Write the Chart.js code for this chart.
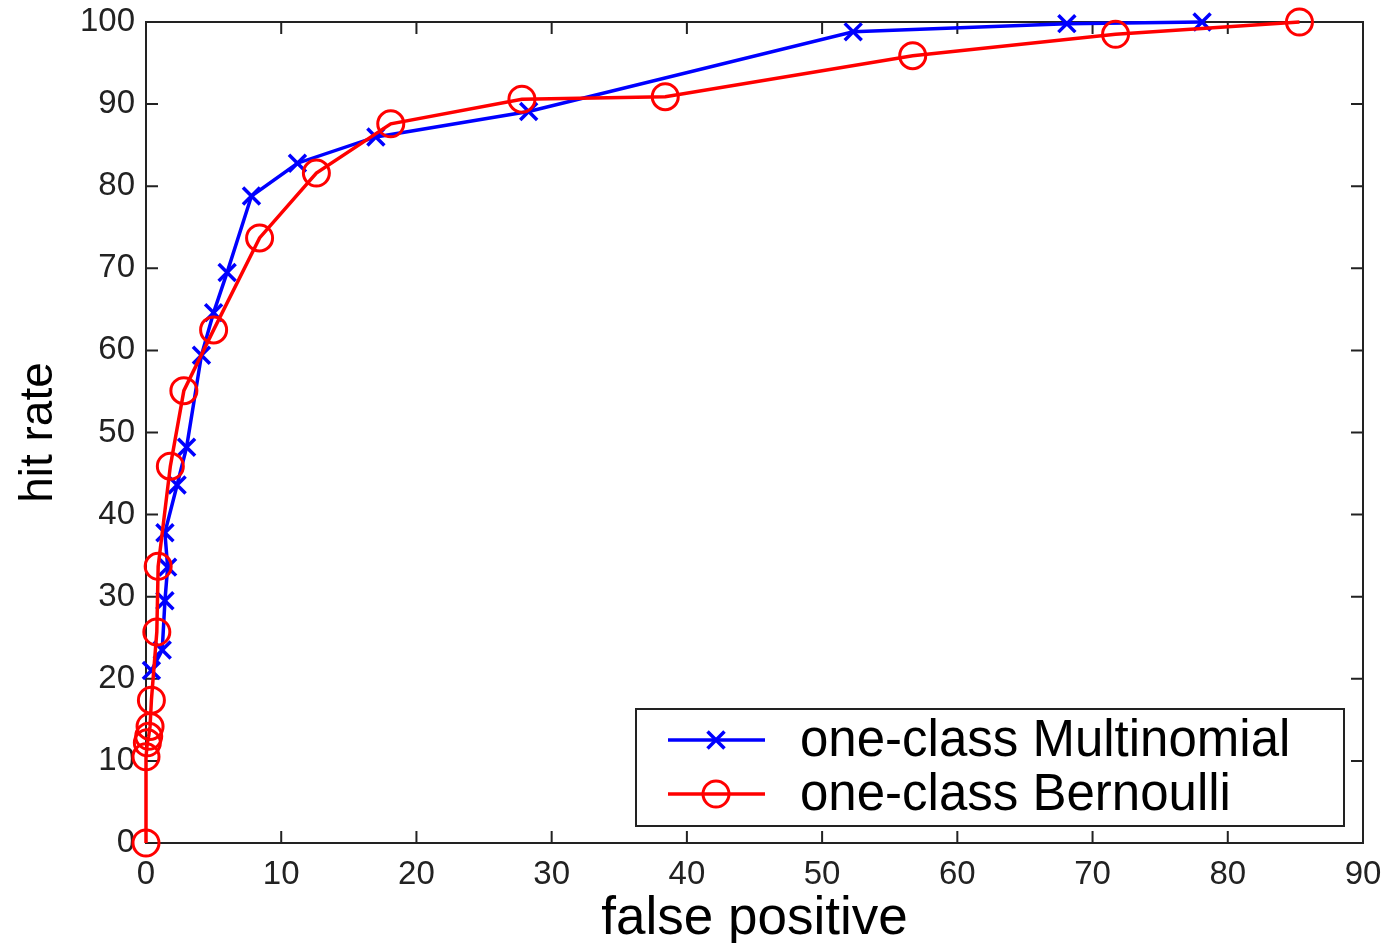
<!DOCTYPE html>
<html>
<head>
<meta charset="utf-8">
<script src="https://cdn.jsdelivr.net/npm/chart.js@4/dist/chart.umd.min.js"></script>
<style>
  html, body { margin: 0; padding: 0; background: #fff; }
  #wrap { width: 1391px; height: 943px; }
</style>
</head>
<body>
<div id="wrap"><canvas id="roc"></canvas></div>
<script>
const xTicks = [0, 10, 20, 30, 40, 50, 60, 70, 80, 90];
const yTicks = [0, 10, 20, 30, 40, 50, 60, 70, 80, 90, 100];

const multiLabel = "one-class Multinomial";
const multiX = [0.4, 1.2, 1.4, 1.6, 1.4, 2.3, 3.0, 4.1, 5.0, 6.0, 7.8, 11.2, 17.0, 28.3, 52.3, 68.1, 78.1];
const multiY = [21.0, 23.5, 29.5, 33.6, 37.8, 43.6, 48.2, 59.4, 64.6, 69.5, 78.8, 82.8, 86.0, 89.1, 98.8, 99.8, 100];

const bernLabel = "one-class Bernoulli";
const bernX = [0, 0, 0.1, 0.2, 0.3, 0.4, 0.8, 0.9, 1.8, 2.8, 5.0, 8.4, 12.6, 18.1, 27.8, 38.4, 56.7, 71.7, 85.3];
const bernY = [0, 10.5, 12.2, 13.0, 14.2, 17.4, 25.7, 33.7, 45.9, 55.1, 62.5, 73.7, 81.6, 87.6, 90.6, 90.9, 95.9, 98.5, 100];

const toPoints = (xs, ys) => xs.map((x, i) => ({ x: x, y: ys[i] }));

// matlab style box with inward ticks on all four sides
const boxPlugin = {
    id: "box",
    beforeDatasetsDraw(chart) {
        const { ctx, chartArea: a, scales } = chart;
        const len = 12;
        ctx.save();
        ctx.strokeStyle = "#222";
        ctx.lineWidth = 2;
        ctx.strokeRect(a.left, a.top, a.right - a.left, a.bottom - a.top);
        ctx.beginPath();
        xTicks.forEach(v => {
            const px = scales.x.getPixelForValue(v);
            ctx.moveTo(px, a.bottom); ctx.lineTo(px, a.bottom - len);
            ctx.moveTo(px, a.top); ctx.lineTo(px, a.top + len);
        });
        yTicks.forEach(v => {
            const py = scales.y.getPixelForValue(v);
            ctx.moveTo(a.left, py); ctx.lineTo(a.left + len, py);
            ctx.moveTo(a.right, py); ctx.lineTo(a.right - len, py);
        });
        ctx.stroke();
        ctx.restore();
    }
};

// legend box in the lower right, drawn from the dataset styles
const legendPlugin = {
    id: "boxLegend",
    afterDatasetsDraw(chart) {
        const ctx = chart.ctx;
        const bx = 636, by = 709, bw = 708, bh = 117;
        ctx.save();
        ctx.fillStyle = "#fff";
        ctx.fillRect(bx, by, bw, bh);
        ctx.strokeStyle = "#222";
        ctx.lineWidth = 2;
        ctx.strokeRect(bx, by, bw, bh);
        const rows = [740, 794];
        chart.data.datasets.forEach((ds, i) => {
            const y = rows[i];
            ctx.strokeStyle = ds.borderColor;
            ctx.lineWidth = ds.borderWidth;
            ctx.beginPath();
            ctx.moveTo(668, y); ctx.lineTo(765, y);
            ctx.stroke();
            ctx.fillStyle = "rgba(0,0,0,0)";
            ctx.strokeStyle = ds.pointBorderColor;
            ctx.lineWidth = ds.pointBorderWidth;
            Chart.helpers.drawPoint(ctx, {
                pointStyle: ds.pointStyle,
                radius: ds.pointRadius,
                borderWidth: ds.pointBorderWidth
            }, 716, y);
            ctx.fillStyle = "#000";
            ctx.font = "51px 'Liberation Sans', Arial, sans-serif";
            ctx.textBaseline = "middle";
            ctx.fillText(ds.label, 800, y + 2);
        });
        ctx.restore();
    }
};

const tickFont = { family: "'Liberation Sans', Arial, sans-serif", size: 33 };

new Chart(document.getElementById("roc"), {
    type: "scatter",
    data: {
        datasets: [
            {
                label: multiLabel,
                data: toPoints(multiX, multiY),
                showLine: true,
                borderColor: "#0000ff",
                backgroundColor: "#0000ff",
                borderWidth: 3.5,
                pointStyle: "crossRot",
                pointRadius: 12,
                pointBorderWidth: 3.5,
                pointBorderColor: "#0000ff",
                clip: false,
                order: 2
            },
            {
                label: bernLabel,
                data: toPoints(bernX, bernY),
                showLine: true,
                borderColor: "#ff0000",
                backgroundColor: "rgba(0,0,0,0)",
                borderWidth: 3.5,
                pointStyle: "circle",
                pointRadius: 13,
                pointBorderWidth: 3,
                pointBorderColor: "#ff0000",
                pointBackgroundColor: "rgba(0,0,0,0)",
                clip: false,
                order: 1
            }
        ]
    },
    options: {
        responsive: true,
        maintainAspectRatio: false,
        animation: false,
        layout: { padding: { top: 22, right: 28, left: 0, bottom: 0 } },
        plugins: {
            legend: { display: false },
            tooltip: { enabled: false }
        },
        scales: {
            x: {
                type: "linear",
                min: 0,
                max: 90,
                afterBuildTicks: s => { s.ticks = xTicks.map(v => ({ value: v })); },
                afterFit: s => { s.height = 100; s.paddingLeft = 0; s.paddingRight = 0; },
                grid: { display: false, drawTicks: false },
                border: { display: false },
                ticks: { font: tickFont, color: "#222", padding: 12, maxRotation: 0 },
                title: {
                    display: true,
                    text: "false positive",
                    color: "#000",
                    font: { family: "'Liberation Sans', Arial, sans-serif", size: 53, lineHeight: 1 },
                    padding: { top: 0, bottom: -3 }
                }
            },
            y: {
                type: "linear",
                min: 0,
                max: 100,
                afterBuildTicks: s => { s.ticks = yTicks.map(v => ({ value: v })); },
                afterFit: s => { s.width = 146; s.paddingTop = 0; s.paddingBottom = 0; },
                grid: { display: false, drawTicks: false },
                border: { display: false },
                ticks: { font: tickFont, color: "#222", padding: 11 },
                title: {
                    display: true,
                    text: "hit rate",
                    color: "#000",
                    font: { family: "'Liberation Sans', Arial, sans-serif", size: 46, lineHeight: 1.2 },
                    padding: { top: 12, bottom: 0 }
                }
            }
        }
    },
    plugins: [boxPlugin, legendPlugin]
});
</script>
</body>
</html>
